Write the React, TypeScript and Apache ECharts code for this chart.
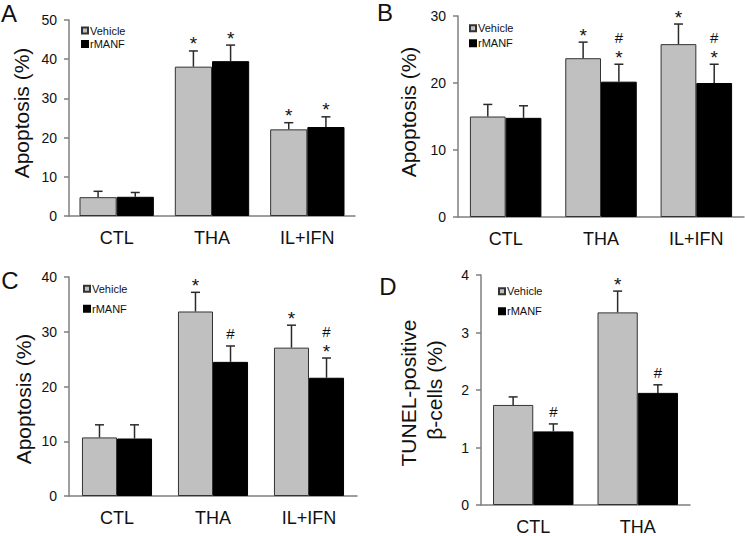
import React, { useEffect, useRef } from "react";
import * as echarts from "echarts";

// ---- data ----
const categories3 = ["CTL", "THA", "IL+IFN"];
const categoriesD = ["CTL", "THA"];

const aVehicle = [4.8, 38.1, 22.1];
const aVehicleErr = [1.5, 4.0, 1.7];
const aRmanf = [4.9, 39.5, 22.7];
const aRmanfErr = [1.1, 4.1, 2.6];
const aVehicleMarks = ["", "*", "*"];
const aRmanfMarks = ["", "*", "*"];

const bVehicle = [15.0, 23.7, 25.8];
const bVehicleErr = [1.8, 2.4, 3.0];
const bRmanf = [14.8, 20.2, 20.0];
const bRmanfErr = [1.8, 2.6, 2.8];
const bVehicleMarks = ["", "*", "*"];
const bRmanfMarks = ["", "#\n*", "#\n*"];

const cVehicle = [10.7, 33.7, 27.1];
const cVehicleErr = [2.3, 3.5, 4.1];
const cRmanf = [10.5, 24.5, 21.6];
const cRmanfErr = [2.5, 2.9, 3.6];
const cVehicleMarks = ["", "*", "*"];
const cRmanfMarks = ["", "#", "#\n*"];

const dVehicle = [1.74, 3.35];
const dVehicleErr = [0.14, 0.37];
const dRmanf = [1.28, 1.95];
const dRmanfErr = [0.13, 0.14];
const dVehicleMarks = ["", "*"];
const dRmanfMarks = ["#", "#"];

const yMaxes = [50, 30, 40, 4];
const yIntervals = [10, 10, 10, 1];
const panelLetters = ["A", "B", "C", "D"];
const yLabel = "Apoptosis (%)";
const yLabelD1 = "TUNEL-positive";
const yLabelD2 = "β-cells (%)";

const FONT = "'Liberation Sans', Arial, Helvetica, sans-serif";
const AXIS_COLOR = "#7f7f7f";
const TEXT_COLOR = "#111111";

const grids = [
  { left: 69, top: 20, width: 286, height: 196 },
  { left: 458, top: 16, width: 286, height: 201 },
  { left: 69, top: 277, width: 288, height: 219 },
  { left: 481, top: 275, width: 209, height: 231 },
];
const gaps = [0.22, 0.25, 0.27, 0.23];

const panels = [
  { cats: categories3, v: aVehicle, ve: aVehicleErr, r: aRmanf, re: aRmanfErr, vm: aVehicleMarks, rm: aRmanfMarks },
  { cats: categories3, v: bVehicle, ve: bVehicleErr, r: bRmanf, re: bRmanfErr, vm: bVehicleMarks, rm: bRmanfMarks },
  { cats: categories3, v: cVehicle, ve: cVehicleErr, r: cRmanf, re: cRmanfErr, vm: cVehicleMarks, rm: cRmanfMarks },
  { cats: categoriesD, v: dVehicle, ve: dVehicleErr, r: dRmanf, re: dRmanfErr, vm: dVehicleMarks, rm: dRmanfMarks },
];

const legendPos = [
  { left: 81, top: 24.5, gap: 1.6 },
  { left: 469, top: 22.3, gap: 3 },
  { left: 83, top: 282.7, gap: 8 },
  { left: 498, top: 285.3, gap: 8 },
];

function errSeries(p: number, side: number, vals: number[], errs: number[], marks: string[], gap: number) {
  return {
    type: "custom",
    xAxisIndex: p,
    yAxisIndex: p,
    z: 5,
    silent: true,
    data: vals.map((v, i) => [i, v, errs[i]]),
    encode: { x: 0, y: 1 },
    renderItem: (params: any, api: any) => {
      const i = api.value(0);
      const v = api.value(1);
      const e = api.value(2);
      const base = api.coord([i, v]);
      const top = api.coord([i, v + e]);
      const band = api.size([1, 0])[0];
      const bw = (band * (1 - gap)) / 2;
      const x = base[0] + (side * bw) / 2;
      const stroke = { stroke: "#2a2a2a", lineWidth: 1.5 };
      const children: any[] = [
        { type: "line", shape: { x1: x, y1: base[1], x2: x, y2: top[1] }, style: stroke },
        { type: "line", shape: { x1: x - 4.5, y1: top[1], x2: x + 4.5, y2: top[1] }, style: stroke },
      ];
      const m = marks[params.dataIndex];
      if (m) {
        const lines = m.split("\n").reverse();
        lines.forEach((t, k) => {
          const cy = top[1] - 12 - k * 15;
          const isStar = t === "*";
          children.push({
            type: "text",
            x: x,
            y: isStar ? cy + 5 : cy,
            style: {
              text: t,
              fontSize: isStar ? 19 : 15,
              fontFamily: FONT,
              fill: TEXT_COLOR,
              align: "center",
              verticalAlign: "middle",
            },
          });
        });
      }
      return { type: "group", children };
    },
  };
}

export default function App() {
  const ref = useRef<HTMLDivElement>(null);
  useEffect(() => {
    document.body.style.margin = "0";
    const chart = echarts.init(ref.current!, undefined, { renderer: "svg" });
    const series: any[] = [];
    panels.forEach((pn, p) => {
      series.push({
        type: "bar",
        name: "Vehicle",
        xAxisIndex: p,
        yAxisIndex: p,
        data: pn.v,
        barGap: "0%",
        barCategoryGap: gaps[p] * 100 + "%",
        itemStyle: { color: "#c0c0c0", borderColor: "#333333", borderWidth: 1 },
        silent: true,
      });
      series.push({
        type: "bar",
        name: "rMANF",
        xAxisIndex: p,
        yAxisIndex: p,
        data: pn.r,
        barGap: "0%",
        barCategoryGap: gaps[p] * 100 + "%",
        itemStyle: { color: "#000000", borderColor: "#000000", borderWidth: 1 },
        silent: true,
      });
      series.push(errSeries(p, -1, pn.v, pn.ve, pn.vm, gaps[p]));
      series.push(errSeries(p, 1, pn.r, pn.re, pn.rm, gaps[p]));
    });

    const graphic: any[] = [];
    const letterPos = [
      [9, 13],
      [385, 12],
      [10, 280],
      [388, 286],
    ];
    panelLetters.forEach((l, i) => {
      graphic.push({
        type: "text",
        x: letterPos[i][0],
        y: letterPos[i][1],
        style: { text: l, fontSize: 24, fontFamily: FONT, fill: TEXT_COLOR, align: "center", verticalAlign: "middle" },
      });
    });
    const yLabelPos = [
      [21, 113, yLabel],
      [408, 112, yLabel],
      [23, 399, yLabel],
      [408, 393, yLabelD1],
      [434, 390, yLabelD2],
    ];
    yLabelPos.forEach((lp: any) => {
      graphic.push({
        type: "text",
        x: lp[0],
        y: lp[1],
        rotation: Math.PI / 2,
        style: { text: lp[2], fontSize: 21, fontFamily: FONT, fill: TEXT_COLOR, align: "center", verticalAlign: "middle" },
      });
    });

    chart.setOption({
      animation: false,
      backgroundColor: "#ffffff",
      grid: grids.map((g) => ({ ...g, containLabel: false })),
      legend: legendPos.map((lp) => ({
        data: ["Vehicle", "rMANF"],
        orient: "vertical",
        left: lp.left,
        top: lp.top,
        itemWidth: 6,
        itemHeight: 6,
        itemGap: lp.gap,
        padding: 0,
        icon: "rect",
        selectedMode: false,
        textStyle: { fontSize: 11, lineHeight: 12, fontFamily: FONT, color: TEXT_COLOR, padding: [0, 0, 0, -3] },
      })),
      xAxis: panels.map((pn, p) => ({
        type: "category",
        gridIndex: p,
        data: pn.cats,
        axisTick: { show: false },
        axisLine: { lineStyle: { color: AXIS_COLOR, width: 1.5 } },
        axisLabel: { fontSize: 18, margin: 13, color: TEXT_COLOR, fontFamily: FONT },
      })),
      yAxis: panels.map((_, p) => ({
        type: "value",
        gridIndex: p,
        min: 0,
        max: yMaxes[p],
        interval: yIntervals[p],
        splitLine: { show: false },
        axisLine: { show: true, lineStyle: { color: AXIS_COLOR, width: 1.5 } },
        axisTick: { show: true, length: 5, lineStyle: { color: AXIS_COLOR, width: 1.5 } },
        axisLabel: { fontSize: 14, margin: 12, color: TEXT_COLOR, fontFamily: FONT },
      })),
      series,
      graphic,
    });
    return () => chart.dispose();
  }, []);
  return <div ref={ref} style={{ position: "fixed", left: 0, top: 0, width: 745, height: 536 }} />;
}
